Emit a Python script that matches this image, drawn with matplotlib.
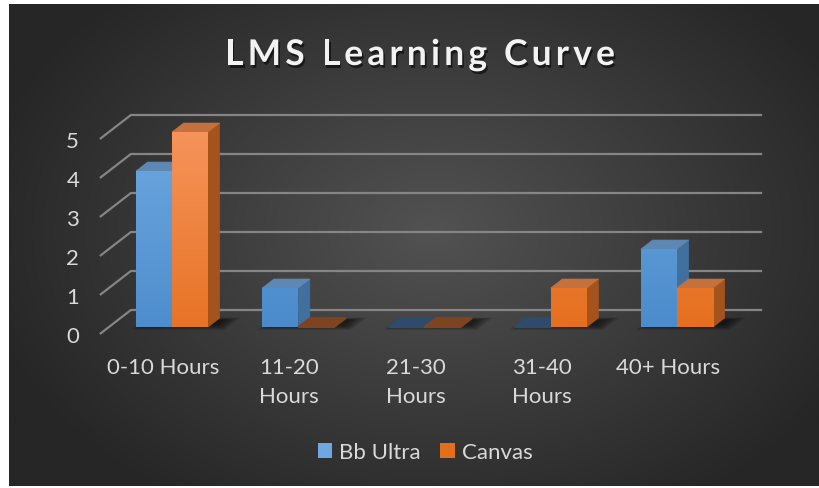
import numpy as np
import matplotlib
matplotlib.use('Agg')
import matplotlib.pyplot as plt
from matplotlib.patches import Polygon, Patch
from matplotlib.colors import LinearSegmentedColormap, to_rgb
from matplotlib.font_manager import findfont, FontProperties
from matplotlib.ft2font import FT2Font
import matplotlib.patheffects as pe

# ---------------- data ----------------
categories = ["0-10 Hours", "11-20\nHours", "21-30\nHours", "31-40\nHours", "40+ Hours"]
series_names = ["Bb Ultra", "Canvas"]
bb_ultra = [4, 1, 0, 0, 2]
canvas = [5, 0, 0, 1, 1]
value_ticks = [0, 1, 2, 3, 4, 5]
title_text = "LMS Learning Curve"

# ---------------- style ----------------
FONT = "Lato"
W, H = 820, 489
DPI = 100
fig = plt.figure(figsize=(W / DPI, H / DPI), dpi=DPI)
fig.patch.set_facecolor("white")

# background panel with radial gradient
bg = fig.add_axes([0, 0, 1, 1])
bg.axis("off")
yy, xx = np.mgrid[0:H, 0:W]
r = np.sqrt(((xx - 430) / 470.0) ** 2 + ((yy - 230) / 330.0) ** 2)
r = np.clip(r, 0, 1)
c_in = np.array(to_rgb("#525252"))
c_out = np.array(to_rgb("#262626"))
img = c_in[None, None, :] * (1 - r[..., None]) + c_out[None, None, :] * r[..., None]
bg.imshow(img, extent=[9, 819, 487, 5], aspect="auto", interpolation="bilinear", zorder=0)
bg.set_xlim(0, W)
bg.set_ylim(H, 0)

# main axes: x in category units, y in value units (front plane)
ax = fig.add_axes([0, 0, 1, 1])
ax.patch.set_alpha(0)
ax.axis("off")
PX0, SX = 163.0, 126.25
PY0, SY = 335.0, 39.0
DX = 31.0 / SX     # depth shift (x units) per unit depth
DV = 24.0 / SY     # depth shift (value units) per unit depth


def proj(x, v, z):
    return (x + DX * z, v + DV * z)


n = len(categories)
x_left = -0.5
x_right = n - 0.5

# gridlines (left wall + back wall)
for v in value_ticks:
    pts = [proj(x_left, v, 0), proj(x_left, v, 1), proj(x_right, v, 1)]
    ax.plot([p[0] for p in pts], [p[1] for p in pts], color="#858585", lw=1.6,
            solid_capstyle="butt", zorder=1)

# value tick labels
for v in value_ticks:
    ax.text(x_left - 0.215, v - 0.06, str(v), color="#d9d9d9", fontsize=16,
            family=FONT, ha="center", va="center", zorder=5)

# category labels
for i, lab in enumerate(categories):
    ax.text(i, -0.58, lab, color="#d9d9d9", fontsize=16, family=FONT,
            ha="center", va="top", linespacing=1.58, zorder=5)

BW = 36.0 / SX
Z0, Z1 = 0.29, 0.665

styles = [
    dict(top_grad="#6EA8E0", bot_grad="#4A8ACB", side="#41709F", top="#5E87B3", zero="#2E4B6B"),
    dict(top_grad="#F6935A", bot_grad="#E56E1C", side="#A5531D", top="#C5713D", zero="#7E4420"),
]

# shadows on the floor
for i in range(n):
    for k in range(6):
        e = 0.02 * k
        xa = i - BW - 0.03 + e + 0.02
        xb = i + BW + 0.16 - e
        za = Z0 - 0.12 + e * 2
        zb = Z1 + 0.02 - e
        poly = [proj(xa, 0, za), proj(xb, 0, za), proj(xb, 0, zb), proj(xa, 0, zb)]
        ax.add_patch(Polygon(poly, closed=True, facecolor="black", edgecolor="none",
                             alpha=0.12, zorder=2))

# bars
series = [bb_ultra, canvas]
for i in range(n):
    for s, vals in enumerate(series):
        v = vals[i]
        st = styles[s]
        xa = i - BW + s * BW
        xb = xa + BW
        zb = 3 + i * 0.01 + s * 0.001
        if v == 0:
            top = [proj(xa, 0, Z0), proj(xb, 0, Z0), proj(xb, 0, Z1), proj(xa, 0, Z1)]
            ax.add_patch(Polygon(top, closed=True, facecolor=st["zero"], edgecolor=st["zero"],
                                 lw=1.4, zorder=zb))
            continue
        # side face
        side = [proj(xb, 0, Z0), proj(xb, 0, Z1), proj(xb, v, Z1), proj(xb, v, Z0)]
        ax.add_patch(Polygon(side, closed=True, facecolor=st["side"], edgecolor=st["side"],
                             lw=0.5, zorder=zb))
        # top face
        top = [proj(xa, v, Z0), proj(xb, v, Z0), proj(xb, v, Z1), proj(xa, v, Z1)]
        ax.add_patch(Polygon(top, closed=True, facecolor=st["top"], edgecolor=st["top"],
                             lw=0.5, zorder=zb))
        # front face with vertical gradient
        fx0, fv0 = proj(xa, 0, Z0)
        fx1, fv1 = proj(xb, v, Z0)
        cmap = LinearSegmentedColormap.from_list("g", [st["bot_grad"], st["top_grad"]])
        grad = np.linspace(0, 1, 64)[:, None]
        grad = grad * (v / 5.0) * 0.85 + 0.15 * (v / 5.0)
        ax.imshow(grad, extent=[fx0, fx1, fv0, fv1], origin="lower", aspect="auto",
                  cmap=cmap, vmin=0, vmax=1, interpolation="bilinear", zorder=zb + 0.0005)

ax.set_xlim((0 - PX0) / SX, (W - PX0) / SX)
ax.set_ylim((PY0 - H) / SY, (PY0 - 0) / SY)

# title with letter spacing (drawn glyph by glyph)
TSIZE = 25.5
TRACK = 4.2  # extra pixels between letters
fp = FontProperties(family=FONT, weight="bold")
ft = FT2Font(findfont(fp))
ft.set_size(TSIZE, DPI)
advs = []
for ch in title_text:
    g = ft.load_char(ord(ch))
    advs.append(g.linearHoriAdvance / 65536.0)
total = sum(advs) + TRACK * (len(title_text) - 1)
cx, cy = 420.0, 53.0
xpos = cx - total / 2.0
shadow = [pe.SimplePatchShadow(offset=(1.2, -2), shadow_rgbFace="black", alpha=0.55), pe.Normal()]
for ch, a in zip(title_text, advs):
    if ch != " ":
        fig.text(xpos / W, 1 - cy / H, ch, color="#f2f2f2", fontsize=TSIZE,
                 fontweight="bold", family=FONT, ha="left", va="center_baseline",
                 path_effects=shadow)
    xpos += a + TRACK

# legend
handles = [Patch(facecolor=styles[0]["top_grad"], edgecolor="none"),
           Patch(facecolor=styles[1]["bot_grad"], edgecolor="none")]
leg = fig.legend(handles, series_names, loc="center", bbox_to_anchor=(425 / W, 1 - 453 / H),
                 ncol=2, frameon=False, handlelength=0.65, handleheight=0.65,
                 handletextpad=0.3, columnspacing=0.9, prop={"family": FONT, "size": 16})
for t in leg.get_texts():
    t.set_color("#d9d9d9")

fig.savefig("out.png", dpi=DPI, facecolor=fig.get_facecolor())
